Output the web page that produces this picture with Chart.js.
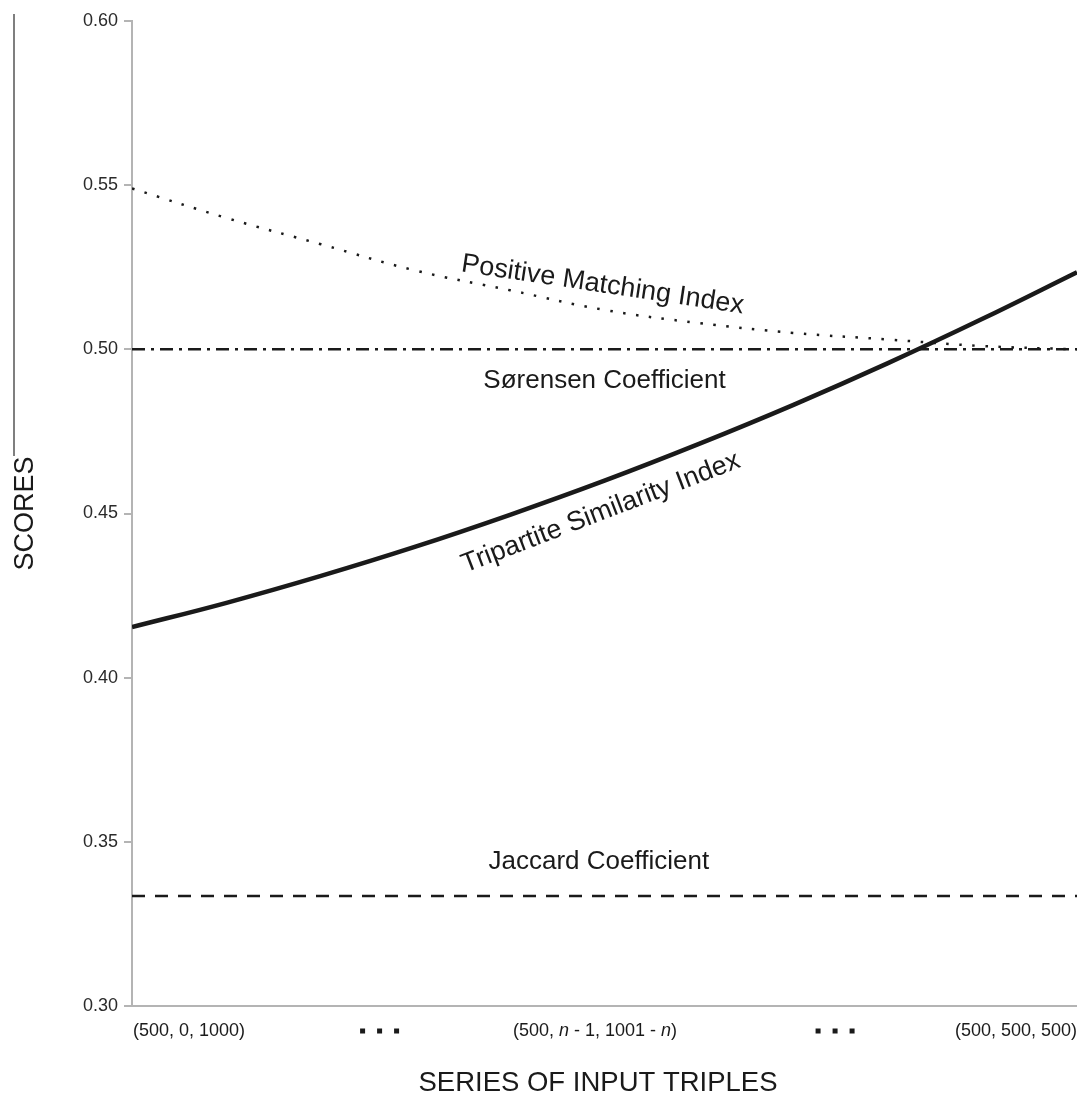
<!DOCTYPE html>
<html>
<head>
<meta charset="utf-8">
<script src="https://cdn.jsdelivr.net/npm/chart.js@4.4.1/dist/chart.umd.min.js"></script>
<style>
  html, body { margin: 0; padding: 0; background: #fff; }
  #wrap { width: 1077px; height: 1106px; position: relative; }
</style>
</head>
<body>
<div id="wrap"><canvas id="chart"></canvas></div>
<script>
/* =========================
   SCORES vs SERIES OF INPUT TRIPLES
   values
========================= */

// step along the series (n - 1), 0 .. 500
const steps        = [0, 50, 100, 150, 200, 250, 300, 350, 400, 450, 500];
const tsiScores    = [0.4154, 0.4228, 0.4310, 0.4399, 0.4496, 0.4600, 0.4712, 0.4831, 0.4958, 0.5093, 0.5235];
const pmiScores    = [0.549, 0.540, 0.532, 0.524, 0.518, 0.512, 0.508, 0.505, 0.503, 0.501, 0.500];
const sorScores    = [0.500, 0.500, 0.500, 0.500, 0.500, 0.500, 0.500, 0.500, 0.500, 0.500, 0.500];
const jacScores    = [0.3335, 0.3335, 0.3335, 0.3335, 0.3335, 0.3335, 0.3335, 0.3335, 0.3335, 0.3335, 0.3335];

// x tick labels (*...* = italic) and the step they sit at
const xTickLabels  = ["(500, 0, 1000)", "...", "(500, *n* - 1, 1001 - *n*)", "...", "(500, 500, 500)"];
const xTickSteps   = [0, 131, 245, 372, 500];
const xTickAlign   = ["left", "center", "center", "center", "right"];

// curve names written on the plot
const curveNames   = ["Positive Matching Index", "Sørensen Coefficient", "Tripartite Similarity Index", "Jaccard Coefficient"];
const nameSteps    = [249, 250, 248, 247];
const nameScores   = [0.5196, 0.4904, 0.4502, 0.3439];
const nameAngles   = [8.5, 0, -21, 0];
const nameSizes    = [27, 26, 27, 26];

const FONT = "'Liberation Sans', Arial, Helvetica, sans-serif";
const AXIS_GRAY = "#b4b4b4";
const INK = "#1a1a1a";

function pts(values) {
  return steps.map((s, i) => ({ x: s, y: values[i] }));
}

function drawRich(ctx, str, x, y, align, size) {
  const parts = str.split("*");
  const fonts = parts.map((_, i) => (i % 2 ? "italic " : "") + size + "px " + FONT);
  const widths = parts.map((p, i) => { ctx.font = fonts[i]; return ctx.measureText(p).width; });
  const total = widths.reduce((a, b) => a + b, 0);
  let cx = align === "left" ? x : align === "right" ? x - total : x - total / 2;
  ctx.textAlign = "left";
  parts.forEach((p, i) => {
    ctx.font = fonts[i];
    ctx.fillText(p, cx, y);
    cx += widths[i];
  });
}

const decorPlugin = {
  id: "decor",
  afterDraw(chart) {
    const { ctx, chartArea, scales } = chart;
    const xs = scales.x, ys = scales.y;
    ctx.save();
    ctx.fillStyle = INK;
    ctx.textBaseline = "middle";

    // x tick labels
    xTickLabels.forEach((lab, i) => {
      const px = xs.getPixelForValue(xTickSteps[i]);
      const py = chartArea.bottom + 25;
      if (lab === "...") {
        for (let k = -1; k <= 1; k++) ctx.fillRect(px + k * 17 - 2.5, py - 2.5, 5, 5);
      } else {
        drawRich(ctx, lab, xTickAlign[i] === "left" ? px + 1 : px, py, xTickAlign[i], 18);
      }
    });

    // axis titles
    ctx.font = "27.5px " + FONT;
    ctx.textAlign = "center";
    ctx.fillText("SERIES OF INPUT TRIPLES", 598, 1083);
    ctx.save();
    ctx.translate(26, (chartArea.top + chartArea.bottom) / 2);
    ctx.rotate(-Math.PI / 2);
    ctx.font = "27px " + FONT;
    ctx.fillText("SCORES", 0, 0);
    ctx.restore();

    // curve names
    curveNames.forEach((name, i) => {
      ctx.save();
      ctx.translate(xs.getPixelForValue(nameSteps[i]), ys.getPixelForValue(nameScores[i]));
      ctx.rotate(nameAngles[i] * Math.PI / 180);
      ctx.font = nameSizes[i] + "px " + FONT;
      ctx.fillText(name, 0, 0);
      ctx.restore();
    });

    // stray frame stroke at the far left of the original figure
    ctx.strokeStyle = "#555";
    ctx.lineWidth = 1.5;
    ctx.beginPath();
    ctx.moveTo(14, 14);
    ctx.lineTo(14, 456);
    ctx.stroke();
    ctx.restore();
  }
};

Chart.defaults.font.family = FONT;

new Chart(document.getElementById("chart"), {
  type: "line",
  data: {
    datasets: [
      { label: "Tripartite Similarity Index", data: pts(tsiScores), borderColor: INK, borderWidth: 4.5, tension: 0.4 },
      { label: "Positive Matching Index", data: pts(pmiScores), borderColor: INK, borderWidth: 2.5, borderDash: [2.5, 10.5], tension: 0.4 },
      { label: "Sørensen Coefficient", data: pts(sorScores), borderColor: INK, borderWidth: 2.5, borderDash: [13, 6, 3, 6] },
      { label: "Jaccard Coefficient", data: pts(jacScores), borderColor: INK, borderWidth: 2.5, borderDash: [13, 10] }
    ]
  },
  options: {
    responsive: true,
    maintainAspectRatio: false,
    animation: false,
    layout: { padding: { top: 21, right: 0, bottom: 0, left: 0 } },
    elements: { point: { radius: 0 } },
    plugins: { legend: { display: false }, tooltip: { enabled: false } },
    scales: {
      x: {
        type: "linear",
        min: 0,
        max: 500,
        grid: { display: false },
        border: { color: AXIS_GRAY, width: 2 },
        ticks: { display: false },
        afterFit: s => { s.height = 100; }
      },
      y: {
        min: 0.30,
        max: 0.60,
        grid: { drawOnChartArea: false, drawTicks: true, tickLength: 8, color: AXIS_GRAY, lineWidth: 2 },
        border: { color: AXIS_GRAY, width: 2 },
        ticks: {
          stepSize: 0.05,
          padding: 6,
          color: "#2a2a2a",
          font: { size: 18 },
          callback: v => v.toFixed(2)
        },
        afterFit: s => { s.width = 132; }
      }
    }
  },
  plugins: [decorPlugin]
});
</script>
</body>
</html>
